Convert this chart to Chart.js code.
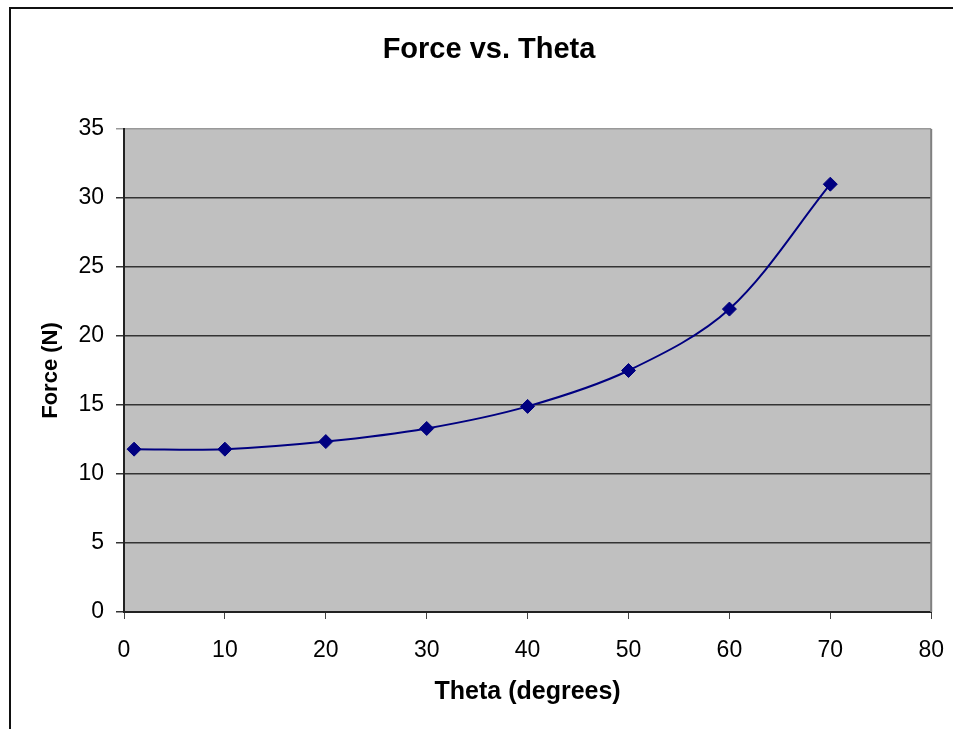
<!DOCTYPE html>
<html><head><meta charset="utf-8">
<script src="https://cdn.jsdelivr.net/npm/chart.js@4"></script>
<style>
html,body{margin:0;padding:0;background:#fff;width:953px;height:729px;overflow:hidden}
#wrap{position:absolute;left:0;top:0;width:962px;height:729px}
#frame{position:absolute;left:9px;top:7px;width:960px;height:740px;border-left:2px solid #111;border-top:2px solid #111;pointer-events:none}
</style></head>
<body>
<div id="wrap"><canvas id="c" width="962" height="729"></canvas></div>
<div id="frame"></div>
<script>
const thetaDeg = [1, 10, 20, 30, 40, 50, 60, 70];
const forceN = [11.8, 11.8, 12.35, 13.3, 14.9, 17.5, 21.95, 31.0];
const chartTitle = 'Force vs. Theta';
const xTitle = 'Theta (degrees)';
const yTitle = 'Force (N)';
const xTicks = {min: 0, max: 80, step: 10};
const yTicks = {min: 0, max: 35, step: 5};

const points = thetaDeg.map((t, i) => ({x: t, y: forceN[i]}));
const FONT = '"Liberation Sans", Arial, sans-serif';

const plotBg = {
  id: 'plotBg',
  beforeDraw(chart) {
    const {ctx, chartArea: a} = chart;
    ctx.save();
    ctx.fillStyle = '#c0c0c0';
    ctx.fillRect(a.left, a.top, a.right - a.left, a.bottom - a.top);
    ctx.restore();
  },
  beforeDatasetsDraw(chart) {
    const {ctx, chartArea: a} = chart;
    ctx.save();
    ctx.strokeStyle = '#808080';
    ctx.lineWidth = 2;
    ctx.beginPath();
    ctx.moveTo(a.right, a.top);
    ctx.lineTo(a.right, a.bottom);
    ctx.stroke();
    ctx.restore();
  },
  afterDraw(chart) {
    const {ctx} = chart;
    ctx.save();
    ctx.fillStyle = '#000';
    ctx.font = 'bold 29px ' + FONT;
    ctx.textAlign = 'center';
    ctx.textBaseline = 'middle';
    ctx.fillText(chartTitle, 489, 50);
    ctx.restore();
  }
};

new Chart(document.getElementById('c'), {
  type: 'line',
  data: {
    datasets: [{
      data: points,
      borderColor: '#000080',
      backgroundColor: '#000080',
      borderWidth: 2,
      tension: 0.33,
      pointStyle: 'rectRot',
      pointRadius: 7,
      pointBorderWidth: 1,
      pointBorderColor: '#000080',
      pointBackgroundColor: '#000080',
      fill: false
    }]
  },
  options: {
    responsive: false,
    animation: false,
    devicePixelRatio: 1,
    layout: {padding: {left: 10, right: 0, top: 129, bottom: 0}},
    plugins: {
      legend: {display: false},
      tooltip: {enabled: false},
      title: {display: false}
    },
    scales: {
      x: {
        type: 'linear',
        min: xTicks.min, max: xTicks.max,
        afterFit(s) { s.height = 117; },
        ticks: {stepSize: xTicks.step, color: '#000', font: {family: FONT, size: 23}, padding: 18, maxRotation: 0},
        grid: {drawOnChartArea: false, drawTicks: true, tickLength: 7, color: '#444', lineWidth: 1},
        border: {display: true, color: '#222', width: 2},
        title: {display: true, text: xTitle, color: '#000', font: {family: FONT, size: 25, weight: 'bold'}, padding: {top: 0, bottom: 22}}
      },
      y: {
        type: 'linear',
        min: yTicks.min, max: yTicks.max,
        afterFit(s) { s.width = 114; },
        ticks: {stepSize: yTicks.step, color: '#000', font: {family: FONT, size: 23}, padding: 12},
        grid: {
          drawTicks: true, tickLength: 8, lineWidth: 1.5,
          color: (c) => (c.tick && c.tick.value === yTicks.max) ? '#999' : '#333'
        },
        border: {display: true, color: '#222', width: 2},
        title: {display: true, text: yTitle, color: '#000', font: {family: FONT, size: 22, weight: 'bold'}, padding: {top: 28, bottom: 0}}
      }
    }
  },
  plugins: [plotBg]
});
</script>
</body></html>
